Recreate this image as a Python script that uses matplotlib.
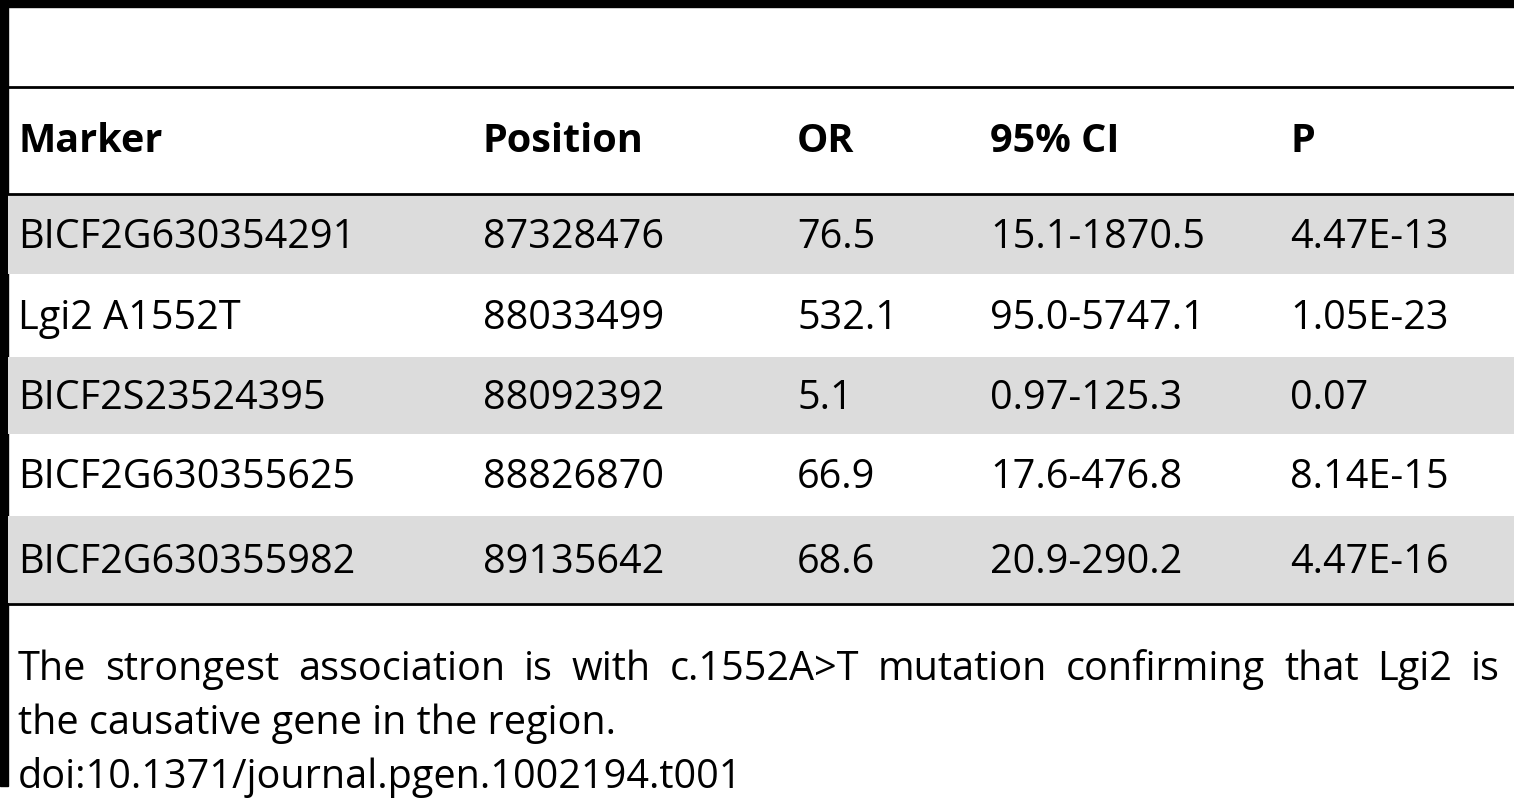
import matplotlib.pyplot as plt
from matplotlib.patches import Rectangle

headers = ['Marker', 'Position', 'OR', '95% CI', 'P']
markers = ['BICF2G630354291', 'Lgi2 A1552T', 'BICF2S23524395', 'BICF2G630355625', 'BICF2G630355982']
positions = ['87328476', '88033499', '88092392', '88826870', '89135642']
odds = ['76.5', '532.1', '5.1', '66.9', '68.6']
ci = ['15.1-1870.5', '95.0-5747.1', '0.97-125.3', '17.6-476.8', '20.9-290.2']
pvals = ['4.47E-13', '1.05E-23', '0.07', '8.14E-15', '4.47E-16']
caption = ['The strongest association is with c.1552A>T mutation confirming that Lgi2 is',
           'the causative gene in the region.',
           'doi:10.1371/journal.pgen.1002194.t001']

W, H = 1514, 800
col_x = [18, 483, 797, 990, 1290]
row_top = [194, 275, 356, 435, 515]
row_h = [81, 81, 79, 80, 89]

plt.rcParams['font.family'] = ['Open Sans', 'DejaVu Sans']
fig = plt.figure(figsize=(W / 100, H / 100), dpi=100)
ax = fig.add_axes([0, 0, 1, 1])
ax.set_xlim(0, W)
ax.set_ylim(H, 0)
ax.axis('off')

fs = 28.5
# frame lines
ax.add_patch(Rectangle((0, 0), W, 7, color='black'))
ax.add_patch(Rectangle((0, 0), 8, 786, color='black'))
ax.plot([8, W], [87, 87], color='black', lw=2)
ax.plot([8, W], [194, 194], color='black', lw=2)
ax.plot([8, W], [604, 604], color='black', lw=2)

for x, h in zip(col_x, headers):
    ax.text(x, 142, h, fontsize=fs, fontweight='bold', va='center', ha='left')

rows = list(zip(markers, positions, odds, ci, pvals))
for i, (row, top, h) in enumerate(zip(rows, row_top, row_h)):
    if i % 2 == 0:
        ax.add_patch(Rectangle((8, top + 1), W - 8, h - 2, color='#dcdcdc', lw=0))
    for x, val in zip(col_x, row):
        ax.text(x, top + h / 2 + 3, val, fontsize=fs, va='center', ha='left')

# first caption line is justified to the right edge
renderer = fig.canvas.get_renderer()
words = caption[0].split(' ')
objs = [ax.text(0, 670, w, fontsize=fs, va='center', ha='left') for w in words]
widths = [o.get_window_extent(renderer).width for o in objs]
left, right = 18, 1500
gap = (right - left - sum(widths)) / (len(words) - 1)
x = left
for o, w in zip(objs, widths):
    o.set_x(x)
    x += w + gap

for y, line in zip([724, 778], caption[1:]):
    ax.text(18, y, line, fontsize=fs, va='center', ha='left')

fig.savefig('out.png', dpi=100)
